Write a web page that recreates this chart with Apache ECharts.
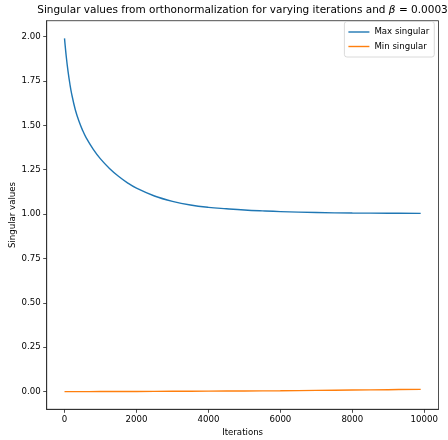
<!DOCTYPE html>
<html>
<head>
<meta charset="utf-8">
<script src="https://cdn.jsdelivr.net/npm/echarts@6/dist/echarts.min.js"></script>
<style>
html,body{margin:0;padding:0;background:#fff;}
#chart{width:448px;height:440px;}
</style>
</head>
<body>
<div id="chart"></div>
<script>
var iterations = [0,50,100,150,200,300,400,500,600,800,1000,1250,1500,1750,2000,2500,3000,3500,4000,4500,5000,5500,6000,7000,8000,9000,9900];
var maxSingular = [1.99,1.885,1.801,1.733,1.676,1.588,1.524,1.473,1.431,1.365,1.311,1.257,1.213,1.176,1.146,1.102,1.072,1.051,1.038,1.030,1.023,1.018,1.014,1.009,1.006,1.005,1.004];
var minIterations = [0,1000,2000,3000,4000,5000,6000,7000,8000,9000,9900];
var minSingular = [0.000,0.0005,0.001,0.002,0.003,0.004,0.005,0.007,0.009,0.011,0.013];
var xTicks = [0,2000,4000,6000,8000,10000];
var yTicks = [0,0.25,0.5,0.75,1.0,1.25,1.5,1.75,2.0];
var seriesNames = ['Max singular','Min singular'];
var titleText = 'Singular values from orthonormalization for varying iterations and ';
var titleTail = ' = 0.0003';

var FONT = 'DejaVu Sans';
var chart = echarts.init(document.getElementById('chart'), null, {renderer:'canvas'});
function pairs(xs, ys){ return xs.map(function(x,i){return [x, ys[i]];}); }
var option = {
  animation:false,
  backgroundColor:'#fff',
  grid:{left:46.7, right:9.5, top:20.7, bottom:30.7, show:true, borderColor:'#222', borderWidth:0.8, containLabel:false, outerBoundsMode:'none'},
  graphic:[{
    type:'text', x:242.5, y:10,
    style:{
      text: titleText + '{i|β}' + titleTail,
      rich:{i:{fontStyle:'italic', fontFamily:FONT, fontSize:10.5, fill:'#000'}},
      fontFamily:FONT, fontSize:10.5, fill:'#000',
      textAlign:'center', textVerticalAlign:'middle'
    }
  }],
  legend:{
    orient:'vertical', right:13.7, top:21.5,
    data:seriesNames,
    icon:'rect', itemWidth:21, itemHeight:1.4, itemGap:3.5,
    padding:[5,5,5,4],
    borderColor:'#d0d0d0', borderWidth:0.8, borderRadius:2.5,
    backgroundColor:'rgba(255,255,255,0.8)',
    textStyle:{fontFamily:FONT, fontSize:8.6, color:'#000', lineHeight:11}
  },
  xAxis:{
    type:'value', min:-495, max:10395,
    name:'Iterations', nameLocation:'middle', nameGap:19, nameMoveOverlap:false,
    nameTextStyle:{fontFamily:FONT, fontSize:8.6, color:'#000'},
    splitLine:{show:false},
    axisLine:{show:true, onZero:false, lineStyle:{color:'#222', width:0.8}},
    axisTick:{show:true, length:3.5, lineStyle:{color:'#222', width:0.8}, customValues:xTicks},
    axisLabel:{customValues:xTicks, margin:6, fontFamily:FONT, fontSize:8.6, color:'#000', formatter:function(v){return String(v);}}
  },
  yAxis:{
    type:'value', min:-0.0995, max:2.0895,
    name:'Singular values', nameLocation:'middle', nameGap:29.5, nameRotate:90, nameMoveOverlap:false,
    nameTextStyle:{fontFamily:FONT, fontSize:8.6, color:'#000'},
    splitLine:{show:false},
    axisLine:{show:true, onZero:false, lineStyle:{color:'#222', width:0.8}},
    axisTick:{show:true, length:3.5, lineStyle:{color:'#222', width:0.8}, customValues:yTicks},
    axisLabel:{customValues:yTicks, margin:6, fontFamily:FONT, fontSize:8.6, color:'#000', formatter:function(v){return v.toFixed(2);}}
  },
  series:[
    {name:seriesNames[0], type:'line', data:pairs(iterations, maxSingular), showSymbol:false, symbol:'none', smooth:0.4, lineStyle:{color:'#1f77b4', width:1.4}, itemStyle:{color:'#1f77b4'}},
    {name:seriesNames[1], type:'line', data:pairs(minIterations, minSingular), showSymbol:false, symbol:'none', smooth:0.4, lineStyle:{color:'#ff7f0e', width:1.4}, itemStyle:{color:'#ff7f0e'}}
  ]
};
chart.setOption(option);
</script>
</body>
</html>
